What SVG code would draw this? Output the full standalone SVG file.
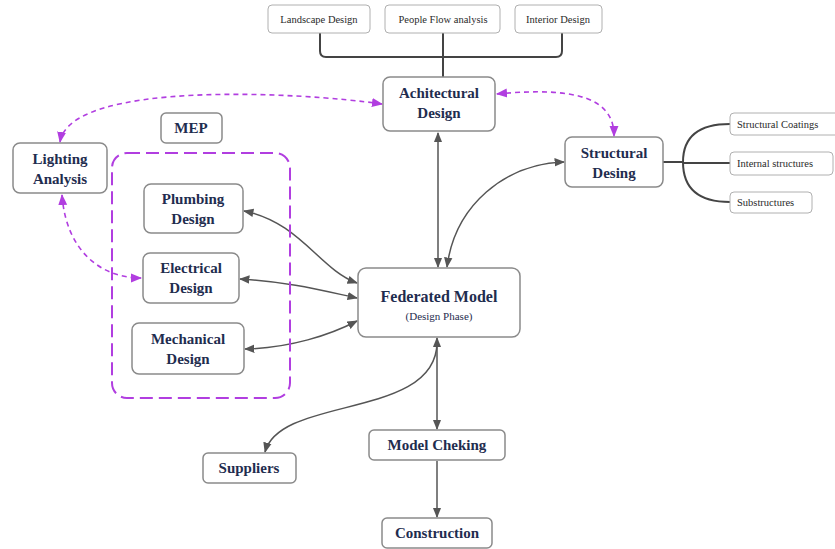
<svg xmlns="http://www.w3.org/2000/svg" width="835" height="549" viewBox="0 0 835 549">
<style>
.n{fill:#fff;stroke:#8a8a8a;stroke-width:1.5}
.s{fill:#fff;stroke:#b0b0b0;stroke-width:1}
.t{font-family:"Liberation Serif",serif;font-weight:bold;font-size:15px;fill:#1f2d4f;text-anchor:middle}
.ts{font-family:"Liberation Serif",serif;font-size:10.5px;fill:#2a2a2a;text-anchor:middle}
.c{fill:none;stroke:#555;stroke-width:1.5}
.b{fill:none;stroke:#444;stroke-width:2}
.d{fill:none;stroke:#b13ee0;stroke-width:1.6;stroke-dasharray:5,4}
</style>
<defs>
<marker id="a" viewBox="0 0 10 10" refX="9" refY="5" markerWidth="7" markerHeight="7" orient="auto-start-reverse"><path d="M0,1L10,5L0,9z" fill="#555"/></marker>
<marker id="p" viewBox="0 0 10 10" refX="9" refY="5" markerWidth="7" markerHeight="7" orient="auto-start-reverse"><path d="M0,1L10,5L0,9z" fill="#b13ee0"/></marker>
</defs>
<rect x="0" y="0" width="835" height="549" fill="#fff"/>
<g id="connectors">
<path class="b" d="M320 33V51Q320 57 326 57H556Q562 57 562 51V33M443 33V77"/>
<path class="b" d="M663 162H683M730 124Q683 124 683 162Q683 202 730 202M683 163H730"/>
<path class="c" d="M438 133V267" marker-start="url(#a)" marker-end="url(#a)"/>
<path class="c" d="M564 162C505 164 455 205 447 267" marker-start="url(#a)" marker-end="url(#a)"/>
<path class="c" d="M244 211C300 222 320 270 357 283" marker-start="url(#a)" marker-end="url(#a)"/>
<path class="c" d="M240 279C290 282 320 290 357 298" marker-start="url(#a)" marker-end="url(#a)"/>
<path class="c" d="M245 349C290 348 330 335 357 321" marker-start="url(#a)" marker-end="url(#a)"/>
<path class="c" d="M437 338V429" marker-start="url(#a)" marker-end="url(#a)"/>
<path class="c" d="M437 342C437 420 280 395 265 452" marker-end="url(#a)"/>
<path class="c" d="M437 461V517" marker-end="url(#a)"/>
<path class="d" d="M60 142C70 80 300 92 382 104" marker-start="url(#p)" marker-end="url(#p)"/>
<path class="d" d="M497 94C580 86 614 100 614 136" marker-start="url(#p)" marker-end="url(#p)"/>
<path class="d" d="M62 195C66 250 100 278 141 278" marker-start="url(#p)" marker-end="url(#p)"/>
</g>
<g id="mep-group"><rect x="112" y="153" width="178" height="245" rx="15" fill="none" stroke="#b13ee0" stroke-width="2" stroke-dasharray="13,6"/></g>
<g id="landscape"><rect class="s" x="268" y="5" width="102" height="28" rx="4"/><text class="ts" x="319" y="23">Landscape Design</text></g>
<g id="peopleflow"><rect class="s" x="385" y="5" width="115" height="28" rx="4"/><text class="ts" x="443" y="23">People Flow analysis</text></g>
<g id="interior"><rect class="s" x="515" y="5" width="87" height="28" rx="4"/><text class="ts" x="558" y="23">Interior Design</text></g>
<g id="architectural"><rect class="n" x="383" y="77" width="112" height="54" rx="7"/><text class="t" x="439" y="98">Achitectural</text><text class="t" x="439" y="118">Design</text></g>
<g id="lighting"><rect class="n" x="13" y="143" width="94" height="50" rx="7"/><text class="t" x="60" y="164">Lighting</text><text class="t" x="60" y="184">Analysis</text></g>
<g id="mep"><rect class="n" x="161" y="113" width="61" height="30" rx="5"/><text class="t" x="191" y="133">MEP</text></g>
<g id="plumbing"><rect class="n" x="144" y="184" width="99" height="49" rx="7"/><text class="t" x="193" y="204">Plumbing</text><text class="t" x="193" y="224">Design</text></g>
<g id="electrical"><rect class="n" x="143" y="253" width="96" height="50" rx="7"/><text class="t" x="191" y="273">Electrical</text><text class="t" x="191" y="293">Design</text></g>
<g id="mechanical"><rect class="n" x="132" y="323" width="112" height="51" rx="7"/><text class="t" x="188" y="344">Mechanical</text><text class="t" x="188" y="364">Design</text></g>
<g id="federated"><rect class="n" x="358" y="268" width="162" height="69" rx="8"/><text class="t" x="439" y="302" style="font-size:16px">Federated Model</text><text class="t" x="439" y="320" style="font-size:11px;font-weight:normal">(Design Phase)</text></g>
<g id="structural"><rect class="n" x="565" y="137" width="98" height="50" rx="7"/><text class="t" x="614" y="158">Structural</text><text class="t" x="614" y="178">Desing</text></g>
<g id="coatings"><rect class="s" x="730" y="113" width="110" height="22" rx="4"/><text class="ts" x="737" y="128" style="text-anchor:start">Structural Coatings</text></g>
<g id="internal"><rect class="s" x="730" y="152" width="103" height="23" rx="4"/><text class="ts" x="737" y="167" style="text-anchor:start">Internal structures</text></g>
<g id="substructures"><rect class="s" x="730" y="192" width="82" height="21" rx="4"/><text class="ts" x="737" y="206" style="text-anchor:start">Substructures</text></g>
<g id="suppliers"><rect class="n" x="203" y="453" width="93" height="30" rx="5"/><text class="t" x="249" y="473">Suppliers</text></g>
<g id="modelcheck"><rect class="n" x="369" y="430" width="136" height="30" rx="5"/><text class="t" x="437" y="450">Model Cheking</text></g>
<g id="construction"><rect class="n" x="382" y="518" width="110" height="30" rx="5"/><text class="t" x="437" y="538">Construction</text></g>
</svg>
